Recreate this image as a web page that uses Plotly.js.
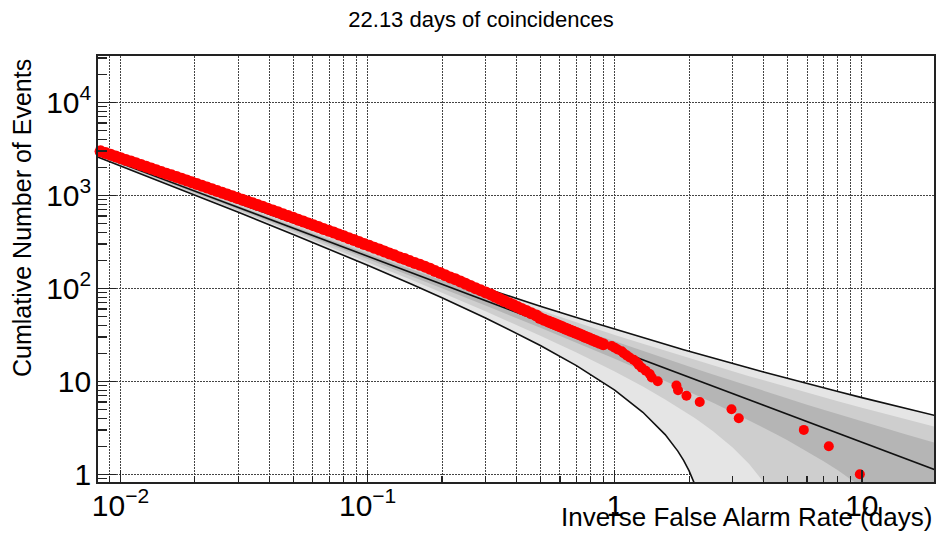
<!DOCTYPE html>
<html>
<head>
<meta charset="utf-8">
<script src="https://cdn.plot.ly/plotly-3.0.1.min.js"></script>
<style>
  html, body { margin: 0; padding: 0; background: #fff; }
  #chart { width: 937px; height: 535px; }
</style>
</head>
<body>
<div id="chart"></div>
<script>
// Observed coincidences: inverse false alarm rate (days) and cumulative count
const obsIfar = [
  0.008305, 0.008706, 0.009128, 0.009568, 0.010032, 0.010517, 0.011025, 0.011557, 0.012117, 0.012702,
  0.013318, 0.013961, 0.014636, 0.015343, 0.016088, 0.016866, 0.017680, 0.018535, 0.019431, 0.020370,
  0.021355, 0.022387, 0.023469, 0.024604, 0.025793, 0.027040, 0.028348, 0.029718, 0.031155, 0.032661,
  0.034240, 0.035895, 0.037631, 0.039454, 0.041363, 0.043363, 0.045459, 0.047657, 0.049961, 0.052376,
  0.054908, 0.057563, 0.060358, 0.063276, 0.066335, 0.069542, 0.072904, 0.076428, 0.080123, 0.083997,
  0.088057, 0.092314, 0.096806, 0.10148, 0.10639, 0.11153, 0.11692, 0.12257, 0.12850, 0.13471,
  0.14123, 0.14805, 0.15524, 0.16274, 0.17061, 0.17886, 0.18750, 0.19656, 0.20606, 0.21603,
  0.22646, 0.23741, 0.24889, 0.26093, 0.27354, 0.28676, 0.30062, 0.31516,
  0.3279, 0.3420, 0.3573, 0.3745, 0.3886, 0.4040, 0.4205, 0.4389, 0.4592, 0.4816, 0.4982,
  0.5170, 0.5383, 0.5497, 0.5615, 0.5738, 0.5868, 0.6005, 0.6149, 0.6300, 0.6459, 0.6626,
  0.6804, 0.6991, 0.7188, 0.7396, 0.7619, 0.7857, 0.8110, 0.8383, 0.8672, 0.8989,
  0.972, 1.000, 1.028, 1.067, 1.087, 1.118, 1.150, 1.194, 1.228, 1.251, 1.286, 1.335,
  1.386, 1.412, 1.493, 1.777, 1.804, 1.951, 2.208, 2.969, 3.177, 5.824, 7.351, 9.815
];
const obsCount = [
  2968, 2845, 2728, 2615, 2507, 2403, 2304, 2208, 2117, 2028,
  1943, 1863, 1785, 1710, 1638, 1570, 1504, 1441, 1380, 1322,
  1266, 1213, 1163, 1114, 1067, 1021, 978, 936, 897, 858,
  822, 787, 753, 719, 687, 657, 627, 599, 572, 547,
  522, 499, 477, 455, 435, 416, 397, 379, 362, 346,
  330, 315, 300, 287, 273, 261, 249, 237, 226, 215,
  206, 196, 187, 179, 171, 162, 153, 146, 138, 131,
  125, 118, 112, 106, 100, 95, 90, 86,
  81, 77, 73, 69, 66, 63, 60, 57, 54, 51, 48,
  46, 44, 43, 42, 41, 40, 39, 38, 37, 36, 35,
  34, 33, 32, 31, 30, 29, 28, 27, 26, 25,
  24, 23, 22, 21, 20, 19, 18, 17, 16, 15, 14, 13,
  12, 11, 10, 9, 8, 7, 6, 5, 4, 3, 2, 1
];

// Background expectation and its 1, 2, 3 sigma bands
const bandIfar = [0.008, 0.01, 0.015, 0.02, 0.03, 0.05, 0.07, 0.1, 0.15, 0.2, 0.3, 0.5, 0.7, 1, 1.3, 1.6, 1.8, 1.9, 2, 2.1, 2.2, 2.5, 3, 3.5, 4, 4.5, 5, 6, 7, 8, 10, 12, 15, 20];
const expected = [2766, 2213, 1475, 1107, 737.7, 442.6, 316.1, 221.3, 147.5, 110.7, 73.77, 44.26, 31.61, 22.13, 17.02, 13.83, 12.29, 11.65, 11.07, 10.54, 10.06, 8.852, 7.377, 6.323, 5.533, 4.918, 4.426, 3.688, 3.161, 2.766, 2.213, 1.844, 1.475, 1.107];
const upper3 = [2924, 2354, 1591, 1206, 819.1, 505.7, 369.5, 265.9, 184.0, 142.2, 99.5, 64.2, 48.48, 36.24, 29.40, 24.99, 22.81, 21.89, 21.04, 20.28, 19.57, 17.78, 15.52, 13.87, 12.59, 11.57, 10.74, 9.45, 8.50, 7.76, 6.67, 5.92, 5.12, 4.26];
const upper2 = [2872, 2307, 1552, 1173, 792.0, 484.7, 351.7, 251.1, 171.8, 131.7, 90.9, 57.6, 42.86, 31.54, 25.28, 21.27, 19.31, 18.47, 17.72, 17.03, 16.40, 14.80, 12.81, 11.35, 10.24, 9.35, 8.63, 7.53, 6.72, 6.09, 5.19, 4.56, 3.90, 3.21];
const upper1 = [2819, 2260, 1514, 1140, 764.8, 463.6, 333.9, 236.2, 159.7, 121.2, 82.4, 50.9, 37.24, 26.83, 21.15, 17.55, 15.80, 15.06, 14.39, 13.78, 13.23, 11.83, 10.09, 8.84, 7.88, 7.14, 6.53, 5.61, 4.94, 4.43, 3.70, 3.20, 2.69, 2.16];
const lower1 = [2714, 2166, 1437, 1073, 710.5, 421.6, 298.4, 206.4, 135.4, 100.1, 65.2, 37.6, 25.99, 17.43, 12.90, 10.11, 8.79, 8.23, 7.74, 7.29, 6.89, 5.88, 4.66, 3.81, 3.18, 2.70, 2.32, 1.768, 1.383, 1.103, 0.725, 0.486, 0.26, 0.055];
const lower2 = [2661, 2119, 1399, 1040, 683.3, 400.5, 280.6, 191.5, 123.2, 89.6, 56.6, 30.95, 20.37, 12.72, 8.77, 6.39, 5.28, 4.82, 4.41, 4.05, 3.72, 2.90, 1.945, 1.293, 0.828, 0.482, 0.218, null, null, null, null, null, null, null];
const lower3 = [2609, 2072, 1360, 1007, 656.2, 379.5, 262.8, 176.7, 111.1, 79.1, 48.0, 24.3, 14.75, 8.02, 4.645, 2.674, 1.776, 1.409, 1.087, 0.799, 0.543, null, null, null, null, null, null, null, null, null, null, null, null, null];

const xTitle = 'Inverse False Alarm Rate (days)';
const yTitle = 'Cumlative Number of Events';
const chartTitle = '22.13 days of coincidences';

const FONT = '"Liberation Sans", Arial, Helvetica, sans-serif';
const bandShades = ['#e5e5e5', '#cecece', '#b5b5b5'];

// Lower edges that drop to zero or below are pinned far under the visible range
const floorOf = arr => arr.map(v => (v === null || v <= 0) ? 1e-3 : v);

function bandPair(lo, hi, shade) {
  return [
    { x: bandIfar, y: floorOf(lo), type: 'scatter', mode: 'lines',
      line: { width: 0, color: shade }, hoverinfo: 'skip' },
    { x: bandIfar, y: hi, type: 'scatter', mode: 'lines', fill: 'tonexty',
      fillcolor: shade, line: { width: 0, color: shade }, hoverinfo: 'skip' }
  ];
}

const curve = yv => ({ x: bandIfar, y: yv, type: 'scatter', mode: 'lines',
  line: { color: '#111', width: 1.6 }, connectgaps: false, hoverinfo: 'skip' });

// Crowded low-threshold events overlap into a solid ribbon; the loud tail is sparse
const crowded = obsCount.map(n => n >= 25);
const pick = (arr, keep) => arr.filter((_, i) => crowded[i] === keep);

const traces = [
  ...bandPair(lower3, upper3, bandShades[0]),
  ...bandPair(lower2, upper2, bandShades[1]),
  ...bandPair(lower1, upper1, bandShades[2]),
  curve(upper3),
  curve(expected),
  curve(lower3),
  { x: pick(obsIfar, true), y: pick(obsCount, true), type: 'scatter', mode: 'markers',
    cliponaxis: false, marker: { color: '#ff0000', size: 12, symbol: 'circle', line: { width: 0 } } },
  { x: pick(obsIfar, false), y: pick(obsCount, false), type: 'scatter', mode: 'markers',
    cliponaxis: false, marker: { color: '#ff0000', size: 10, symbol: 'circle', line: { width: 0 } } }
];

const gridDash = '1.5px,1.5px';
const axisCommon = {
  type: 'log', dtick: 1, tick0: 0, exponentformat: 'power',
  ticks: 'inside', tickcolor: '#222', tickwidth: 1.5,
  showline: true, mirror: true, linecolor: '#222', linewidth: 2,
  showgrid: true, gridcolor: '#444', gridwidth: 1, griddash: gridDash,
  zeroline: false, tickfont: { family: FONT, size: 24, color: '#000' }
};

const layout = {
  width: 937, height: 535,
  margin: { l: 98, r: 3, t: 56, b: 53, pad: 0 },
  paper_bgcolor: '#ffffff', plot_bgcolor: '#ffffff',
  showlegend: false, hovermode: false,
  font: { family: FONT, color: '#000' },
  title: {
    text: chartTitle, font: { family: FONT, size: 22, color: '#000' },
    xref: 'container', x: 481 / 937, xanchor: 'center',
    yref: 'container', y: 1 - 19 / 535, yanchor: 'middle'
  },
  xaxis: Object.assign({}, axisCommon, {
    range: [-2.091, 1.292], ticklen: 12, ticklabelstandoff: -3,
    minor: { dtick: 'D1', ticks: 'inside', ticklen: 6, tickwidth: 1.2, tickcolor: '#222',
             showgrid: true, gridcolor: '#444', gridwidth: 1, griddash: gridDash }
  }),
  yaxis: Object.assign({}, axisCommon, {
    range: [-0.083, 4.498], ticklen: 18, ticklabelstandoff: 0,
    minor: { dtick: 'D1', ticks: 'inside', ticklen: 9, tickwidth: 1.2, tickcolor: '#222',
             showgrid: false }
  }),
  annotations: [
    { text: xTitle, xref: 'paper', yref: 'paper', x: 1, xanchor: 'right',
      y: -0.083, yanchor: 'middle', showarrow: false,
      font: { family: FONT, size: 26, color: '#000' } },
    { text: yTitle, xref: 'paper', yref: 'paper', x: -0.0909, xanchor: 'center',
      y: 1, yanchor: 'top', yshift: -1, textangle: -90, showarrow: false,
      font: { family: FONT, size: 25, color: '#000' } }
  ]
};

Plotly.newPlot('chart', traces, layout, { staticPlot: true, displayModeBar: false });
</script>
</body>
</html>
